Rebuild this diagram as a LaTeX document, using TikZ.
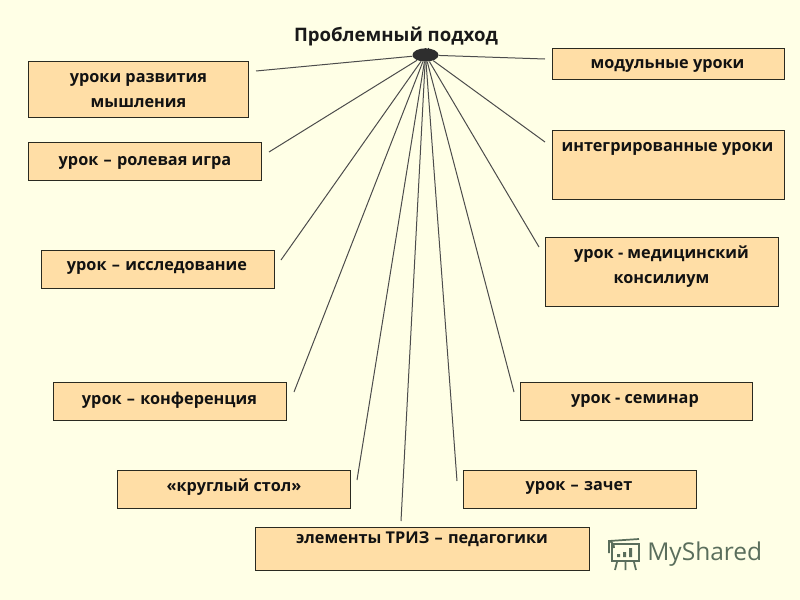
\documentclass[tikz,border=0pt]{standalone}
\usepackage{fontspec}
\usetikzlibrary{shapes.geometric}
\setmainfont{Open Sans}
\definecolor{pagebg}{HTML}{FFFFE6}
\definecolor{boxfill}{HTML}{FFDEA6}
\definecolor{boxline}{HTML}{2A2A20}
\definecolor{hubfill}{HTML}{2E2E2E}
\definecolor{wm}{HTML}{5A6E5C}
\newcommand{\dd}{\space\hspace{0.8pt}–\hspace{0.8pt}\space}
\tikzset{
  card/.style={draw=boxline,fill=boxfill,line width=0.8pt,anchor=north west,inner sep=0pt},
  cardtext/.style={font=\fontsize{12.2}{18.8}\selectfont\bfseries,text=black!93!white,align=center,inner sep=0pt},
  spoke/.style={draw=black!70!white,line width=0.75pt}
}
\begin{document}
\begin{tikzpicture}[x=0.75pt,y=-0.75pt]
\useasboundingbox (0,0) rectangle (800,600);
\fill[pagebg] (0,0) rectangle (800,600);

\node[card,minimum width=165pt,minimum height=42pt] (a) at (28,61) {};
\node[card,minimum width=174.75pt,minimum height=28.5pt] (b) at (28,142) {};
\node[card,minimum width=174.75pt,minimum height=28.5pt] (c) at (41,250) {};
\node[card,minimum width=174.75pt,minimum height=28.5pt] (d) at (53,382) {};
\node[card,minimum width=174.75pt,minimum height=28.5pt] (e) at (117,470) {};
\node[card,minimum width=250.5pt,minimum height=32.25pt] (f) at (255,527) {};
\node[card,minimum width=174.75pt,minimum height=28.5pt] (g) at (463,470) {};
\node[card,minimum width=174pt,minimum height=28.5pt] (h) at (520,382) {};
\node[card,minimum width=174.75pt,minimum height=51.75pt] (i) at (545,237) {};
\node[card,minimum width=174pt,minimum height=51.75pt] (j) at (552,130) {};
\node[card,minimum width=174pt,minimum height=23.25pt] (k) at (552,48) {};

\node[cardtext] (ta) at (138.5,90.5) {уроки развития\\мышления};
\node[cardtext] (tb) at (145,163) {урок\dd ролевая игра};
\node[cardtext] (tc) at (157,268) {урок\dd исследование};
\node[cardtext] (td) at (169.5,400) {урок\dd конференция};
\node[cardtext] (te) at (234,487) {«круглый стол»};
\node[cardtext] (tf) at (422,539) {элементы ТРИЗ\dd педагогики};
\node[cardtext] (tg) at (579,488) {урок\dd зачет};
\node[cardtext] (th) at (635,400.5) {урок - семинар};
\node[cardtext] (ti) at (661.5,266.5) {урок - медицинский\\консилиум};
\node[cardtext] (tj) at (667.5,148.5) {интегрированные уроки};
\node[cardtext] (tk) at (667.5,65.5) {модульные уроки};

\node[font=\fontsize{13.95}{17}\selectfont\bfseries,text=black!90!white,inner sep=0pt] (title) at (396,36) {Проблемный подход};

\coordinate (ea) at (256,71);
\coordinate (eb) at (269,152);
\coordinate (ec) at (281,260);
\coordinate (ed) at (294,392);
\coordinate (ee) at (357,480);
\coordinate (ef) at (401,521);
\coordinate (eg) at (457,481);
\coordinate (eh) at (514,392);
\coordinate (ei) at (539,247);
\coordinate (ej) at (545,142);
\coordinate (ek) at (545,59);
\node[ellipse,fill=hubfill,minimum width=19.5pt,minimum height=10pt,inner sep=0pt] (hub) at (425.5,55) {};
\foreach \e in {ea,eb,ec,ed,ee,ef,eg,eh,ei,ej,ek}
  \draw[spoke] (hub) -- (\e);
\draw[hubfill,line width=0.4pt] (425,48) -- (425,50) (428,47.5) -- (428,50);

% watermark
\begin{scope}[draw=wm,line width=1.3pt]
  \draw (612,544) -- (639,544) -- (639,561) -- (612,561) -- cycle;
  \draw (609,553) -- (609,541) -- (639,539) (609,541) to[bend left=40] (614,548);
  \draw (617,562) -- (615,570) (625.5,562) -- (625.5,570) (634,562) -- (636,570);
  \fill[wm] (617,554) rectangle (620,557) (623,552) rectangle (626,557) (629,548) rectangle (632,557);
\end{scope}
\node[font=\fontsize{18.4}{20}\selectfont,text=wm,anchor=west,inner sep=0pt] (wmt) at (647,554) {MyShared};
\end{tikzpicture}
\end{document}
